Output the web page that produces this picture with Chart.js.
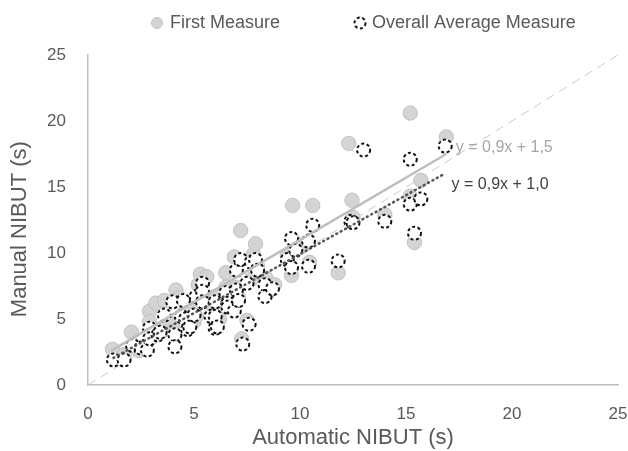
<!DOCTYPE html>
<html><head><meta charset="utf-8">
<script src="https://cdn.jsdelivr.net/npm/chart.js@4"></script>
<style>html,body{margin:0;padding:0;background:#fff;}#wrap{width:628px;height:451px;position:relative}</style>
</head><body><div id="wrap"><canvas id="c"></canvas></div>
<script>
// ---- data ----
const tickStep = 5;
const axisMin = 0, axisMax = 25;
const seriesNames = ['First Measure', 'Overall Average Measure'];
const axisTitles = ['Automatic NIBUT (s)', 'Manual NIBUT (s)'];
const equations = ['y = 0,9x + 1,5', 'y = 0,9x + 1,0'];

const firstX = [1.15,1.7,2.05,2.4,2.9,2.9,3.0,3.2,3.5,3.6,4.0,4.15,4.3,4.5,4.8,5.0,5.1,5.2,5.3,5.6,5.9,6.0,6.2,6.5,6.5,6.7,6.9,7.0,7.1,7.2,7.25,7.5,7.7,7.8,7.9,8.0,8.4,8.5,8.8,9.4,9.6,9.65,9.7,10.1,10.45,10.6,11.8,12.3,12.45,12.5,14.0,15.2,15.2,15.4,15.7,16.9];
const firstY = [2.7,2.3,4.0,2.6,5.6,4.8,3.6,6.2,4.3,6.4,4.6,7.2,6.6,5.4,5.9,4.8,5.2,7.6,8.4,8.2,6.0,6.7,5.0,8.5,7.4,6.5,9.7,7.4,6.6,11.7,3.5,4.9,8.0,9.9,10.7,9.0,8.1,7.0,7.6,9.8,8.3,13.6,10.9,10.5,9.3,13.6,8.5,18.3,14.0,12.7,12.9,20.6,14.3,10.8,15.5,18.8];

const avgX = [1.2,1.7,2.1,2.5,2.8,2.9,2.9,3.3,3.4,3.6,4.0,4.1,4.1,4.4,4.5,4.6,4.7,4.8,5.0,5.1,5.4,5.4,5.4,5.8,6.0,6.0,6.0,6.1,6.5,6.6,6.6,6.9,7.0,7.0,7.1,7.2,7.3,7.5,7.6,7.7,7.9,8.0,8.35,8.35,8.7,9.4,9.6,9.6,9.8,10.4,10.4,10.6,11.8,12.4,12.5,13.0,14.0,15.2,15.2,15.4,15.7,16.85];
const avgY = [1.9,1.9,3.0,2.8,2.65,4.3,3.5,3.8,4.0,5.3,6.3,3.8,2.9,5.2,6.4,5.0,4.2,4.4,5.3,6.7,7.7,7.1,6.3,5.2,4.3,6.3,5.2,4.4,7.0,6.2,5.9,5.6,8.7,7.2,6.4,9.5,3.1,7.7,4.6,9.3,9.5,8.7,7.6,6.7,7.3,9.5,11.1,8.9,10.2,10.9,9.0,12.1,9.4,12.4,12.3,17.8,12.4,17.1,13.7,11.5,14.1,18.1];

const trendFirstX = [1.1, 16.9], trendFirstY = [2.6, 17.5];
const trendAvgX = [1.2, 16.7], trendAvgY = [2.05, 15.9];
const identityX = [0, 25], identityY = [0, 25];

const pts = (xs, ys) => xs.map((x, i) => ({x, y: ys[i]}));

const TEXT = '#595959';
const FONT = "'Liberation Sans', Arial, sans-serif";

const overlay = {
  id: 'overlay',
  beforeDatasetDraw(chart, args) {
    if (chart.data.datasets[args.index].dashedPoints) chart.ctx.setLineDash([3, 2.5]);
  },
  afterDatasetDraw(chart) { chart.ctx.setLineDash([]); },
  afterDatasetsDraw(chart, args, opts) {
    const ctx = chart.ctx, xs = chart.scales.x, ys = chart.scales.y;
    ctx.save();
    ctx.font = '16px ' + FONT;
    ctx.textAlign = 'left';
    ctx.textBaseline = 'middle';
    opts.labels.forEach(l => {
      ctx.fillStyle = l.color;
      ctx.fillText(l.text, xs.getPixelForValue(l.x), ys.getPixelForValue(l.y));
    });
    ctx.restore();
  },
  afterDraw(chart, args, opts) {
    const ctx = chart.ctx;
    ctx.save();
    ctx.font = '18px ' + FONT;
    ctx.textBaseline = 'middle';
    ctx.textAlign = 'left';
    opts.legend.forEach((it, i) => {
      const ds = chart.data.datasets[i];
      ctx.beginPath();
      ctx.arc(it.mx, it.my, 5.5, 0, Math.PI * 2);
      ctx.fillStyle = ds.backgroundColor;
      ctx.fill();
      ctx.lineWidth = ds.dashedPoints ? 2 : 1;
      ctx.setLineDash(ds.dashedPoints ? [3, 2.5] : []);
      ctx.strokeStyle = ds.borderColor;
      ctx.stroke();
      ctx.setLineDash([]);
      ctx.fillStyle = TEXT;
      ctx.fillText(ds.label, it.tx, it.my);
    });
    ctx.restore();
  }
};

new Chart(document.getElementById('c'), {
  type: 'scatter',
  data: {
    datasets: [
      { label: seriesNames[0], data: pts(firstX, firstY), backgroundColor: '#d4d4d4', borderColor: '#c2c2c2', borderWidth: 1, pointRadius: 7.2, order: 4 },
      { label: seriesNames[1], data: pts(avgX, avgY), backgroundColor: '#ffffff', borderColor: '#111111', borderWidth: 2, pointRadius: 6.5, dashedPoints: true, order: 3 },
      { label: 'trend1', data: pts(trendFirstX, trendFirstY), showLine: true, borderColor: '#bdbdbd', borderWidth: 2.5, pointRadius: 0, order: 2 },
      { label: 'trend2', data: pts(trendAvgX, trendAvgY), showLine: true, borderColor: '#555555', borderWidth: 2.5, borderDash: [1, 4], borderCapStyle: 'round', pointRadius: 0, order: 1 },
      { label: 'identity', data: pts(identityX, identityY), showLine: true, borderColor: '#cacaca', borderWidth: 1, borderDash: [9, 6], pointRadius: 0, order: 5 }
    ]
  },
  options: {
    responsive: true, maintainAspectRatio: false, animation: false, devicePixelRatio: 1,
    layout: { padding: { top: 55, right: 10, bottom: 0, left: 0 } },
    plugins: {
      legend: { display: false }, tooltip: { enabled: false },
      overlay: {
        labels: [
          { text: equations[0], x: 17.35, y: 17.95, color: '#a6a6a6' },
          { text: equations[1], x: 17.15, y: 15.15, color: '#404040' }
        ],
        legend: [ { mx: 157, my: 23, tx: 170 }, { mx: 360, my: 23, tx: 372 } ]
      }
    },
    scales: {
      x: {
        type: 'linear', min: axisMin, max: axisMax,
        ticks: { stepSize: tickStep, color: TEXT, font: { size: 17, family: FONT }, padding: 11 },
        grid: { display: false },
        border: { display: true, color: '#bfbfbf', width: 1.5 },
        title: { display: true, text: axisTitles[0], color: TEXT, font: { size: 22, family: FONT }, padding: { top: 0, bottom: 0 } },
        afterFit: s => { s.height = 66; s.paddingRight = 0; s.paddingLeft = 0; }
      },
      y: {
        type: 'linear', min: axisMin, max: axisMax,
        ticks: { stepSize: tickStep, color: TEXT, font: { size: 17, family: FONT }, padding: 14 },
        grid: { display: false },
        border: { display: true, color: '#bfbfbf', width: 1.5 },
        title: { display: true, text: axisTitles[1] + '   ', color: TEXT, font: { size: 22, family: FONT }, padding: { top: 7, bottom: 0 } },
        afterFit: s => { s.width = 88; }
      }
    }
  },
  plugins: [overlay]
});
</script>
</body></html>
